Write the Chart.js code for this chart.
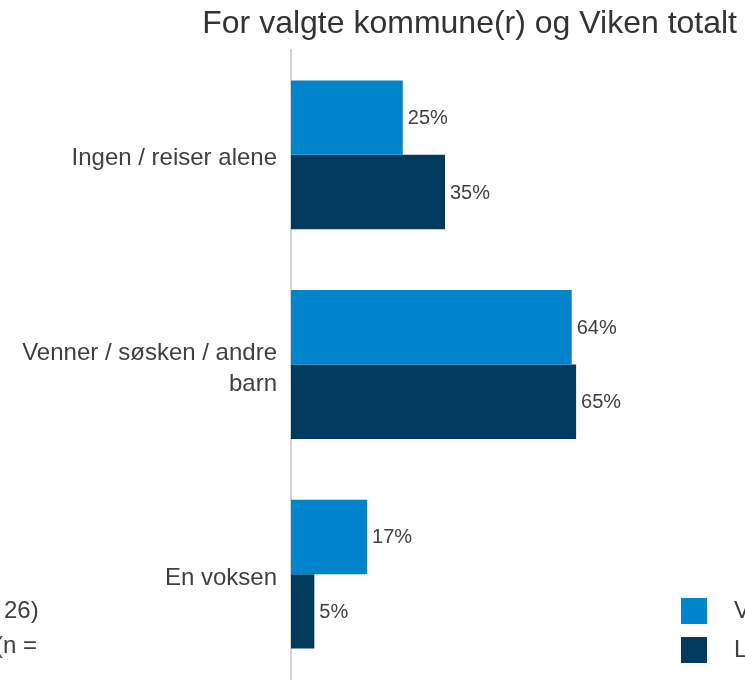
<!DOCTYPE html>
<html>
<head>
<meta charset="utf-8">
<script src="https://cdn.jsdelivr.net/npm/chart.js@4"></script>
<style>
  html, body { margin: 0; padding: 0; background: #ffffff; }
  #wrap { width: 745px; height: 683px; position: relative; }
</style>
</head>
<body>
<div id="wrap"><canvas id="c" width="745" height="683"></canvas></div>
<script>
const titleText = 'For valgte kommune(r) og Viken totalt';
const categories = [['Ingen / reiser alene'], ['Venner / søsken / andre', 'barn'], ['En voksen']];
const seriesNames = ['Viken', 'Lier'];
const seriesA = [25.4, 63.8, 17.3];
const seriesB = [35.0, 64.8, 5.3];
const seriesColors = ['#0084CB', '#003A5D'];
const leftFragments = ['26)', '(n ='];

const FONT = '"Liberation Sans", Arial, sans-serif';
const TEXT = '#404040';

const extras = {
  id: 'extras',
  afterDatasetsDraw(chart) {
    const ctx = chart.ctx;
    ctx.save();
    // value labels
    ctx.font = '20px ' + FONT;
    ctx.fillStyle = TEXT;
    ctx.textBaseline = 'middle';
    ctx.textAlign = 'left';
    chart.data.datasets.forEach((ds, di) => {
      const meta = chart.getDatasetMeta(di);
      meta.data.forEach((bar, i) => {
        ctx.fillText(Math.round(ds.data[i]) + '%', bar.x + 5, bar.y + 1);
      });
    });
    // title
    ctx.font = '32px ' + FONT;
    ctx.fillStyle = '#333333';
    ctx.textAlign = 'right';
    ctx.textBaseline = 'alphabetic';
    ctx.fillText(titleText, 737, 33);
    // legend (cut at right edge)
    const rows = [611, 650];
    ctx.font = '24px ' + FONT;
    ctx.textBaseline = 'middle';
    ctx.textAlign = 'left';
    seriesNames.forEach((n, i) => {
      ctx.fillStyle = seriesColors[i];
      ctx.fillRect(681, rows[i] - 13, 26, 26);
      ctx.fillStyle = TEXT;
      ctx.fillText(n, 734, rows[i]);
    });
    // fragments at left edge
    ctx.textAlign = 'left';
    ctx.fillText(leftFragments[0], 4, rows[0]);
    ctx.textAlign = 'right';
    ctx.fillText(leftFragments[1], 37, rows[1] - 4);
    ctx.restore();
  }
};

new Chart(document.getElementById('c'), {
  type: 'bar',
  data: {
    labels: categories,
    datasets: [
      { label: seriesNames[0], data: seriesA, backgroundColor: seriesColors[0], borderWidth: 0 },
      { label: seriesNames[1], data: seriesB, backgroundColor: seriesColors[1], borderWidth: 0 }
    ]
  },
  options: {
    indexAxis: 'y',
    responsive: false,
    animation: false,
    devicePixelRatio: 1,
    categoryPercentage: 0.71,
    barPercentage: 1.0,
    layout: { padding: { top: 50, bottom: 4, left: 0, right: 14 } },
    plugins: {
      legend: { display: false },
      title: { display: false },
      tooltip: { enabled: false }
    },
    scales: {
      x: {
        min: 0, max: 100,
        display: false,
        grid: { display: false }
      },
      y: {
        grid: { display: false, drawTicks: false },
        border: { display: true, color: '#d4d4d4', width: 2 },
        ticks: {
          color: TEXT,
          padding: 14,
          labelOffset: 4,
          font: { family: FONT, size: 24, lineHeight: 1.3 }
        },
        afterFit(s) { s.width = 291; s.paddingTop = 0; s.paddingBottom = 0; }
      }
    }
  },
  plugins: [extras]
});
</script>
</body>
</html>
